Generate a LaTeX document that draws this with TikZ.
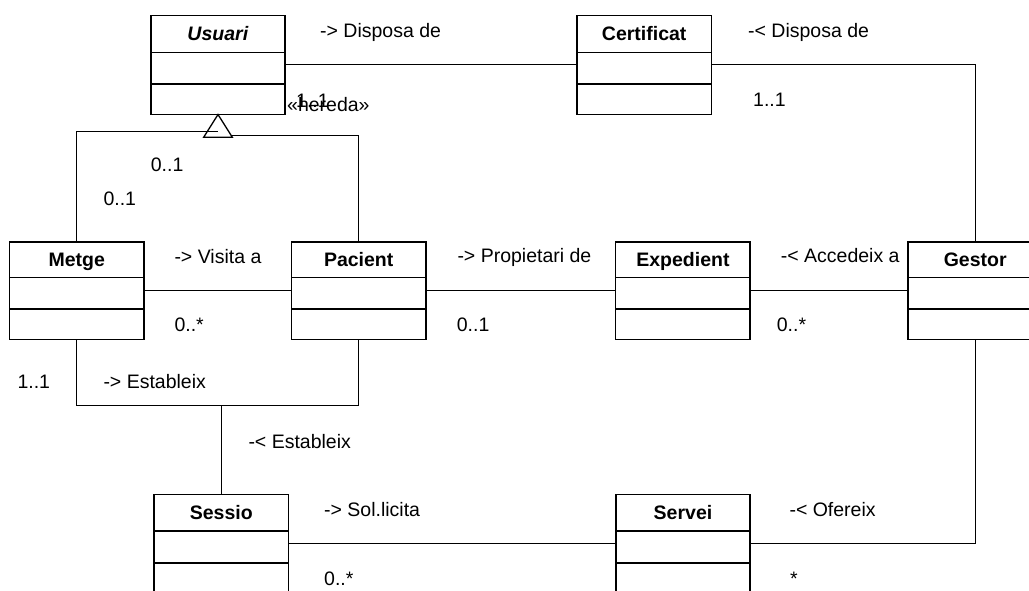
\documentclass[tikz,border=0pt]{standalone}
\usepackage{fontspec}
\setmainfont{Liberation Sans}
\usetikzlibrary{calc}
% class box: name, centre x, top y, title, heights of the three rows
\newcommand\umlbox[7]{%
  \node[clsbox, minimum height=#5+#6+#7] (#1) at (#2,#3) {};
  \node[clstitle] (#1-name) at ($(#1.north)+(0,#5/2+7)$) {#4};
  \draw[clsline] ($(#1.north west)+(0,#5)$) -- ($(#1.north east)+(0,#5)$);
  \draw[clsline] ($(#1.north west)+(0,#5+#6)$) -- ($(#1.north east)+(0,#5+#6)$);
}
\begin{document}
\begin{tikzpicture}[x=1pt,y=-1pt,
  clsbox/.style={draw, line width=1.6pt, fill=white, minimum width=134.5pt,
    inner sep=0pt, outer sep=0pt, anchor=north},
  clsline/.style={line width=1.6pt},
  clstitle/.style={anchor=base, inner sep=0pt,
    font=\fontsize{19.5}{23}\selectfont\bfseries},
  assoc/.style={line width=1pt},
  lbl/.style={anchor=base west, inner sep=0pt,
    font=\fontsize{19.5}{23}\selectfont}]
\useasboundingbox (0,0) rectangle (1029,590);
\clip (0,0) rectangle (1029,590);
\fill[white] (0,0) rectangle (1029,590);

% classes
\umlbox{usuari}{218}{15.3}{\textit{Usuari}}{37}{31.7}{30.5}
\umlbox{certificat}{644.2}{15.3}{Certificat}{37}{31.7}{30.5}
\umlbox{metge}{76.7}{241.7}{Metge}{35.6}{31.7}{30.3}
\umlbox{pacient}{358.7}{241.7}{Pacient}{35.6}{31.7}{30.3}
\umlbox{expedient}{682.9}{241.7}{Expedient}{35.6}{31.7}{30.3}
\umlbox{gestor}{975.2}{241.7}{Gestor}{35.6}{31.7}{30.3}
\umlbox{sessio}{221.3}{494.3}{Sessio}{36.7}{31.7}{30.3}
\umlbox{servei}{683}{494.3}{Servei}{36.7}{31.7}{30.3}

% generalisation towards Usuari
\coordinate (triL) at ($(usuari.south)+(-14.3,22.7)$);
\coordinate (triR) at ($(usuari.south)+(14.3,22.7)$);
\coordinate (hookL) at ($(usuari.south)+(0,17)$);
\coordinate (hookR) at ($(usuari.south)+(13,20.5)$);
\draw[assoc] (pacient.north) |- (hookR);
\draw[assoc, line width=1.3pt, fill=white] (usuari.south) -- (triL) -- (triR) -- cycle;
\draw[assoc] (metge.north) |- (hookL);

% associations
\draw[assoc] (usuari.east) -- (certificat.west);
\draw[assoc] (certificat.east) -| (gestor.north);
\draw[assoc] (metge.east) -- (pacient.west);
\draw[assoc] (pacient.east) -- (expedient.west);
\draw[assoc] (expedient.east) -- (gestor.west);
\coordinate (joint) at ($(sessio.north)+(0,-88.8)$);
\draw[assoc] (metge.south) |- (joint) -| (pacient.south);
\draw[assoc] (joint) -- (sessio.north);
\draw[assoc] (sessio.east) -- (servei.west);
\draw[assoc] (servei.east) -| (gestor.south);

% association names and multiplicities
\node[lbl] (l-disp1) at (320,37) {-> Disposa de};
\node[lbl] (l-disp2) at (748,37) {-< Disposa de};
\node[lbl] (m-cert) at (753,106) {1..1};
\node[lbl] (m-usu) at (296,107) {1..1};
\node[lbl] (st-hereda) at (287,111.5) {«hereda»};
\node[lbl] (m-gen1) at (150.7,171.7) {0..1};
\node[lbl] (m-gen2) at (103.3,205) {0..1};
\node[lbl] (l-visita) at (174.3,263) {-> Visita a};
\node[lbl] (m-visita) at (174.3,331.7) {0..*};
\node[lbl] (l-prop) at (457.3,262) {-> Propietari de};
\node[lbl] (m-prop) at (456.7,331) {0..1};
\node[lbl] (l-acc) at (780.7,262.3) {-< Accedeix a};
\node[lbl] (m-acc) at (776.7,331) {0..*};
\node[lbl] (m-est) at (17.3,388.3) {1..1};
\node[lbl] (l-est1) at (103.3,388.3) {-> Estableix};
\node[lbl] (l-est2) at (248.3,448.3) {-< Estableix};
\node[lbl] (l-sol) at (324,516) {-> Sol.licita};
\node[lbl] (m-sol) at (324,585.5) {0..*};
\node[lbl] (l-ofe) at (789.3,516) {-< Ofereix};
\node[lbl] (m-ofe) at (790,585.5) {*};
\end{tikzpicture}
\end{document}
